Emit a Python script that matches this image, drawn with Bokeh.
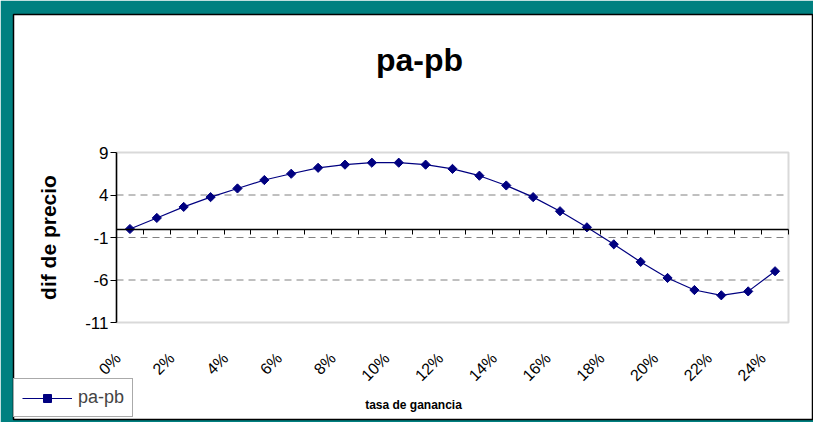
import numpy as np
from bokeh.plotting import figure
from bokeh.models import (Range1d, FixedTicker, LinearAxis, Legend, LegendItem,
                          BoxAnnotation, Label)
from bokeh.embed import file_html
from bokeh.resources import INLINE

# ---- data ----
tasa = [0, 1, 2, 3, 4, 5, 6, 7, 8, 9, 10, 11, 12, 13, 14, 15, 16, 17, 18, 19, 20, 21, 22, 23, 24]  # %
dif = [0.0, 1.3, 2.6, 3.75, 4.77, 5.76, 6.5, 7.2, 7.57, 7.8, 7.8, 7.57, 7.07, 6.27, 5.12,
       3.75, 2.09, 0.2, -1.8, -3.87, -5.76, -7.18, -7.8, -7.34, -4.97]
y_ticks = [9, 4, -1, -6, -11]
grid_ticks = [4, -1, -6]
x_label_ticks = [0, 2, 4, 6, 8, 10, 12, 14, 16, 18, 20, 22, 24]
series_name = "pa-pb"
title_text = "pa-pb"
x_title = "tasa de ganancia"
y_title = "dif de precio"

FONT = "Liberation Sans"
NAVY = "#000080"
TEAL = "#008080"
GRAY = "#808080"

# ---- layout (canvas pixels) ----
W, H = 813, 422
FR_L, FR_R, FR_T, FR_B = 13, 813, 14, 419      # white chart area (the frame)
PA_L, PA_R, PA_T, PA_B = 116, 788, 152, 322    # plot area inside it
LABEL_SHIFT = -0.45                            # x labels sit left of their category

x0, x1 = tasa[0] - 0.5, tasa[-1] + 0.5
y0, y1 = min(y_ticks), max(y_ticks)
ux = (x1 - x0) / (PA_R - PA_L)
uy = (y1 - y0) / (PA_B - PA_T)
xr = Range1d(x0 - (PA_L - FR_L) * ux, x1 + (FR_R - PA_R) * ux)
yr = Range1d(y0 - (FR_B - PA_B) * uy, y1 + (PA_T - FR_T) * uy)

p = figure(width=W, height=H, output_backend="svg", toolbar_location=None,
           x_range=xr, y_range=yr, x_axis_location=None, y_axis_location=None,
           min_border_left=FR_L, min_border_right=W - FR_R,
           min_border_top=FR_T, min_border_bottom=H - FR_B,
           border_fill_color=TEAL, background_fill_color="white",
           outline_line_color="black", outline_line_width=1.5)
p.title.text = ""
p.title.visible = False
p.xgrid.grid_line_color = None
p.ygrid.grid_line_color = None

# plot-area border
p.add_layout(BoxAnnotation(left=x0, right=x1, bottom=y0, top=y1,
                           fill_alpha=0, line_color=GRAY, line_width=2,
                           level="underlay"))

# dashed value gridlines across the plot area
p.segment(x0=[x0] * len(grid_ticks), x1=[x1] * len(grid_ticks),
          y0=grid_ticks, y1=grid_ticks,
          line_color=GRAY, line_dash="7 5", line_width=1)

# y axis on the plot-area edge
ya = LinearAxis(fixed_location=x0, bounds=(y0, y1),
                ticker=FixedTicker(ticks=y_ticks),
                major_label_overrides={t: str(t) for t in y_ticks},
                axis_line_color="black", axis_line_width=1.5,
                major_tick_out=6, major_tick_in=0, major_tick_line_color="black",
                minor_tick_line_color=None,
                major_label_standoff=2, major_label_text_font=FONT,
                major_label_text_font_size="17px", major_label_text_color="black",
                axis_label=y_title, axis_label_text_font=FONT,
                axis_label_text_font_size="21px", axis_label_text_font_style="bold",
                axis_label_text_color="black", axis_label_standoff=22)
p.add_layout(ya, "left")

# x labels under the plot area
lab_pos = [t + LABEL_SHIFT for t in x_label_ticks]
xa = LinearAxis(fixed_location=y0,
                ticker=FixedTicker(ticks=lab_pos),
                major_label_overrides={pos: f"{t}%" for pos, t in zip(lab_pos, x_label_ticks)},
                axis_line_color=None, major_tick_line_color=None, minor_tick_line_color=None,
                major_label_orientation=np.pi / 4, major_label_standoff=27,
                major_label_text_font=FONT, major_label_text_font_size="16px",
                major_label_text_color="black",
                axis_label=x_title, axis_label_text_font=FONT,
                axis_label_text_font_size="12px", axis_label_text_font_style="bold",
                axis_label_text_color="black", axis_label_standoff=5)
p.add_layout(xa, "below")

# category axis line at y = 0 with boundary tick marks
bounds = [t - 0.5 for t in tasa] + [tasa[-1] + 0.5]
za = LinearAxis(fixed_location=0, bounds=(x0, x1),
                ticker=FixedTicker(ticks=[], minor_ticks=bounds),
                axis_line_color="black", axis_line_width=1.5,
                major_tick_line_color=None,
                minor_tick_in=5, minor_tick_out=0, minor_tick_line_color="black",
                minor_tick_line_width=1)
p.add_layout(za, "above")

# series
ln = p.line(tasa, dif, line_color=NAVY, line_width=1.2)
sc = p.scatter(tasa, dif, marker="square", angle=np.pi / 4, size=6.5,
               fill_color=NAVY, line_color=NAVY)

# title
p.add_layout(Label(x=(tasa[0] + tasa[-1]) / 2, y=y1, x_offset=-33, y_offset=93,
                   text=title_text, text_font=FONT, text_font_size="32px",
                   text_font_style="bold", text_color="black",
                   text_align="center", text_baseline="middle"))

legend = Legend(items=[LegendItem(label=series_name, renderers=[ln, sc])],
                location=(0, 2), orientation="vertical",
                label_text_font=FONT, label_text_font_size="18px",
                glyph_width=50, glyph_height=20, label_standoff=6,
                padding=8, margin=0, spacing=0,
                border_line_color="#555555", border_line_width=1,
                background_fill_color="white", background_fill_alpha=1.0)
p.add_layout(legend, "center")

open("out.html", "w").write(file_html(p, INLINE))
